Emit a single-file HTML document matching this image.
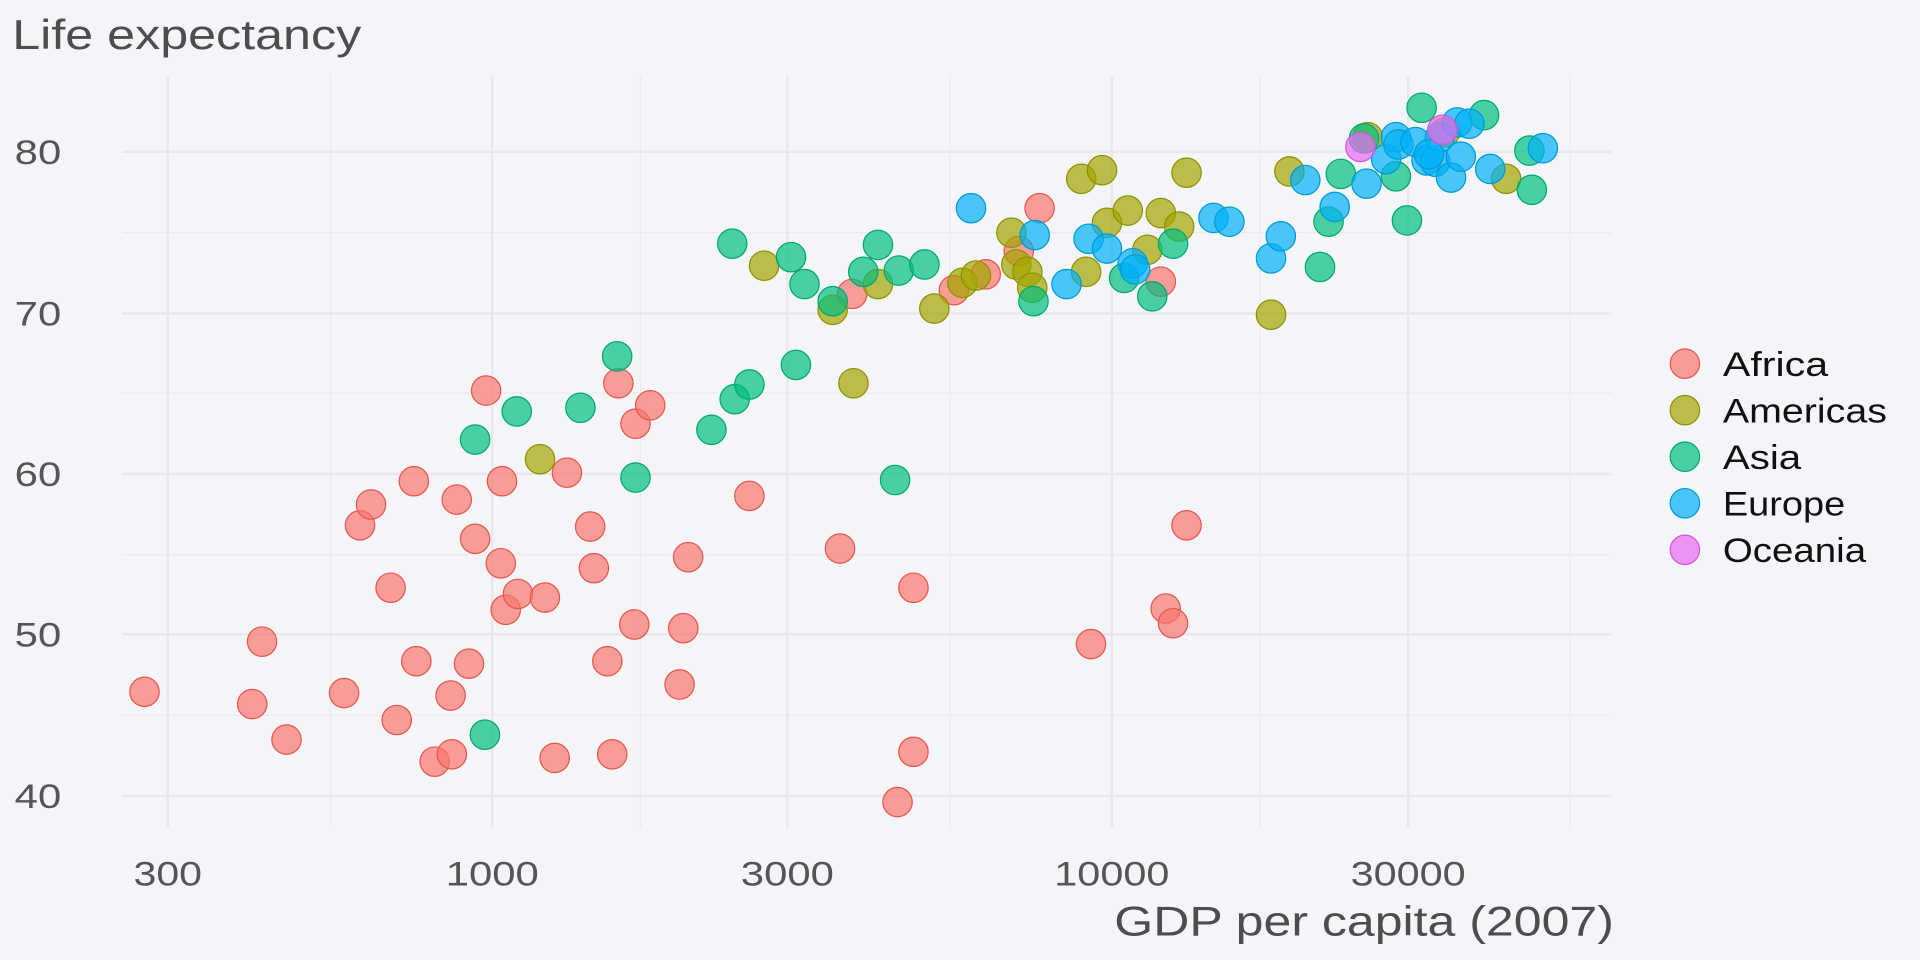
<!DOCTYPE html>
<html><head><meta charset="utf-8"><style>
html,body{margin:0;padding:0;background:#f4f5f8;}
svg{display:block;font-family:"Liberation Sans","DejaVu Sans",sans-serif;}
</style></head><body>
<svg width="1920" height="960" viewBox="0 0 1568 784" xmlns="http://www.w3.org/2000/svg">
<rect width="1568" height="784" fill="#f4f5f8"/>
<g stroke="#ebebef" stroke-width="1">
<line x1="100" x2="1316" y1="190" y2="190"/><line x1="100" x2="1316" y1="321" y2="321"/><line x1="100" x2="1316" y1="453" y2="453"/><line x1="100" x2="1316" y1="584" y2="584"/>
<line x1="270" x2="270" y1="62" y2="676"/><line x1="523" x2="523" y1="62" y2="676"/><line x1="776" x2="776" y1="62" y2="676"/><line x1="1029" x2="1029" y1="62" y2="676"/><line x1="1282" x2="1282" y1="62" y2="676"/>
</g>
<g stroke="#e8e8ec" stroke-width="2">
<line x1="100" x2="1316" y1="124" y2="124"/><line x1="100" x2="1316" y1="256" y2="256"/><line x1="100" x2="1316" y1="387" y2="387"/><line x1="100" x2="1316" y1="518" y2="518"/><line x1="100" x2="1316" y1="650" y2="650"/>
<line x1="137" x2="137" y1="62" y2="676"/><line x1="402" x2="402" y1="62" y2="676"/><line x1="643" x2="643" y1="62" y2="676"/><line x1="908" x2="908" y1="62" y2="676"/><line x1="1150" x2="1150" y1="62" y2="676"/>
</g>
<g fill="#555" font-size="28">
<text x="12" y="134" textLength="38" lengthAdjust="spacingAndGlyphs">80</text><text x="12" y="266" textLength="38" lengthAdjust="spacingAndGlyphs">70</text><text x="12" y="397" textLength="38" lengthAdjust="spacingAndGlyphs">60</text><text x="12" y="528" textLength="38" lengthAdjust="spacingAndGlyphs">50</text><text x="12" y="660" textLength="38" lengthAdjust="spacingAndGlyphs">40</text>
</g>
<g fill="#555" font-size="28">
<text x="109" y="723" textLength="56" lengthAdjust="spacingAndGlyphs">300</text><text x="364" y="723" textLength="76" lengthAdjust="spacingAndGlyphs">1000</text><text x="605" y="723" textLength="76" lengthAdjust="spacingAndGlyphs">3000</text><text x="861" y="723" textLength="94" lengthAdjust="spacingAndGlyphs">10000</text><text x="1103" y="723" textLength="94" lengthAdjust="spacingAndGlyphs">30000</text>
</g>
<text x="10" y="40" fill="#4d4d4d" font-size="34" textLength="285" lengthAdjust="spacingAndGlyphs">Life expectancy</text>
<text x="910" y="764" fill="#4d4d4d" font-size="34" textLength="408" lengthAdjust="spacingAndGlyphs">GDP per capita (2007)</text>
<g fill="#F8766D" stroke="#e8564d" fill-opacity="0.7" stroke-width="1">
<circle cx="118" cy="565" r="12"/><circle cx="206" cy="575" r="12"/><circle cx="214" cy="524" r="12"/><circle cx="234" cy="604" r="12"/><circle cx="281" cy="566" r="12"/><circle cx="294" cy="429" r="12"/><circle cx="303" cy="412" r="12"/><circle cx="319" cy="480" r="12"/><circle cx="324" cy="588" r="12"/><circle cx="338" cy="393" r="12"/><circle cx="340" cy="540" r="12"/><circle cx="355" cy="622" r="12"/><circle cx="368" cy="568" r="12"/><circle cx="369" cy="616" r="12"/><circle cx="373" cy="408" r="12"/><circle cx="383" cy="542" r="12"/><circle cx="388" cy="440" r="12"/><circle cx="397" cy="319" r="12"/><circle cx="409" cy="460" r="12"/><circle cx="410" cy="393" r="12"/><circle cx="413" cy="498" r="12"/><circle cx="423" cy="485" r="12"/><circle cx="445" cy="488" r="12"/><circle cx="453" cy="619" r="12"/><circle cx="463" cy="386" r="12"/><circle cx="482" cy="430" r="12"/><circle cx="485" cy="464" r="12"/><circle cx="496" cy="540" r="12"/><circle cx="500" cy="616" r="12"/><circle cx="505" cy="313" r="12"/><circle cx="518" cy="510" r="12"/><circle cx="519" cy="346" r="12"/><circle cx="531" cy="331" r="12"/><circle cx="555" cy="559" r="12"/><circle cx="558" cy="513" r="12"/><circle cx="562" cy="455" r="12"/><circle cx="612" cy="405" r="12"/><circle cx="686" cy="448" r="12"/><circle cx="696" cy="240" r="12"/><circle cx="733" cy="655" r="12"/><circle cx="746" cy="614" r="12"/><circle cx="746" cy="480" r="12"/><circle cx="779" cy="237" r="12"/><circle cx="805" cy="224" r="12"/><circle cx="832" cy="205" r="12"/><circle cx="849" cy="170" r="12"/><circle cx="891" cy="526" r="12"/><circle cx="952" cy="497" r="12"/><circle cx="958" cy="509" r="12"/><circle cx="969" cy="429" r="12"/><circle cx="948" cy="230" r="12"/>
</g>
<g fill="#A3A500" stroke="#8f9100" fill-opacity="0.7" stroke-width="1">
<circle cx="441" cy="375" r="12"/><circle cx="624" cy="217" r="12"/><circle cx="680" cy="253" r="12"/><circle cx="697" cy="313" r="12"/><circle cx="717" cy="232" r="12"/><circle cx="763" cy="252" r="12"/><circle cx="786" cy="231" r="12"/><circle cx="797" cy="225" r="12"/><circle cx="826" cy="190" r="12"/><circle cx="830" cy="216" r="12"/><circle cx="839" cy="222" r="12"/><circle cx="843" cy="235" r="12"/><circle cx="883" cy="146" r="12"/><circle cx="887" cy="222" r="12"/><circle cx="900" cy="139" r="12"/><circle cx="904" cy="182" r="12"/><circle cx="921" cy="172" r="12"/><circle cx="937" cy="204" r="12"/><circle cx="948" cy="174" r="12"/><circle cx="963" cy="185" r="12"/><circle cx="969" cy="141" r="12"/><circle cx="1038" cy="257" r="12"/><circle cx="1053" cy="140" r="12"/><circle cx="1230" cy="146" r="12"/><circle cx="1117" cy="112" r="12"/><circle cx="1180" cy="108" r="12"/>
</g>
<g fill="#00BF7D" stroke="#00a86d" fill-opacity="0.7" stroke-width="1">
<circle cx="388" cy="359" r="12"/><circle cx="396" cy="600" r="12"/><circle cx="422" cy="336" r="12"/><circle cx="474" cy="333" r="12"/><circle cx="504" cy="291" r="12"/><circle cx="519" cy="390" r="12"/><circle cx="581" cy="351" r="12"/><circle cx="598" cy="199" r="12"/><circle cx="600" cy="326" r="12"/><circle cx="612" cy="314" r="12"/><circle cx="646" cy="210" r="12"/><circle cx="650" cy="298" r="12"/><circle cx="657" cy="232" r="12"/><circle cx="680" cy="246" r="12"/><circle cx="705" cy="222" r="12"/><circle cx="717" cy="200" r="12"/><circle cx="731" cy="392" r="12"/><circle cx="734" cy="221" r="12"/><circle cx="755" cy="216" r="12"/><circle cx="844" cy="246" r="12"/><circle cx="918" cy="227" r="12"/><circle cx="941" cy="242" r="12"/><circle cx="958" cy="199" r="12"/><circle cx="1078" cy="218" r="12"/><circle cx="1085" cy="181" r="12"/><circle cx="1095" cy="142" r="12"/><circle cx="1114" cy="113" r="12"/><circle cx="1140" cy="144" r="12"/><circle cx="1149" cy="180" r="12"/><circle cx="1161" cy="88" r="12"/><circle cx="1212" cy="94" r="12"/><circle cx="1249" cy="123" r="12"/><circle cx="1251" cy="155" r="12"/>
</g>
<g fill="#00B0F6" stroke="#009ad8" fill-opacity="0.7" stroke-width="1">
<circle cx="793" cy="170" r="12"/><circle cx="845" cy="192" r="12"/><circle cx="871" cy="232" r="12"/><circle cx="889" cy="195" r="12"/><circle cx="904" cy="203" r="12"/><circle cx="925" cy="215" r="12"/><circle cx="927" cy="220" r="12"/><circle cx="991" cy="178" r="12"/><circle cx="1004" cy="181" r="12"/><circle cx="1038" cy="211" r="12"/><circle cx="1046" cy="193" r="12"/><circle cx="1066" cy="147" r="12"/><circle cx="1090" cy="169" r="12"/><circle cx="1116" cy="150" r="12"/><circle cx="1132" cy="130" r="12"/><circle cx="1140" cy="112" r="12"/><circle cx="1142" cy="118" r="12"/><circle cx="1156" cy="116" r="12"/><circle cx="1165" cy="131" r="12"/><circle cx="1172" cy="132" r="12"/><circle cx="1176" cy="112" r="12"/><circle cx="1185" cy="145" r="12"/><circle cx="1190" cy="100" r="12"/><circle cx="1193" cy="128" r="12"/><circle cx="1200" cy="101" r="12"/><circle cx="1217" cy="138" r="12"/><circle cx="1260" cy="121" r="12"/><circle cx="1167" cy="126" r="12"/>
</g>
<g fill="#E76BF3" stroke="#d455e0" fill-opacity="0.7" stroke-width="1">
<circle cx="1111" cy="120" r="12"/><circle cx="1178" cy="106" r="12"/>
</g>
<g fill-opacity="0.7" stroke-width="1">
<circle cx="1376" cy="297" r="12" fill="#F8766D" stroke="#e8564d"/>
<circle cx="1376" cy="335" r="12" fill="#A3A500" stroke="#8f9100"/>
<circle cx="1376" cy="373" r="12" fill="#00BF7D" stroke="#00a86d"/>
<circle cx="1376" cy="411" r="12" fill="#00B0F6" stroke="#009ad8"/>
<circle cx="1376" cy="449" r="12" fill="#E76BF3" stroke="#d455e0"/>
</g>
<g fill="#111" font-size="28">
<text x="1407" y="307" textLength="86" lengthAdjust="spacingAndGlyphs">Africa</text><text x="1407" y="345" textLength="134" lengthAdjust="spacingAndGlyphs">Americas</text><text x="1407" y="383" textLength="64" lengthAdjust="spacingAndGlyphs">Asia</text><text x="1407" y="421" textLength="100" lengthAdjust="spacingAndGlyphs">Europe</text><text x="1407" y="459" textLength="117" lengthAdjust="spacingAndGlyphs">Oceania</text>
</g>
</svg>
</body></html>
